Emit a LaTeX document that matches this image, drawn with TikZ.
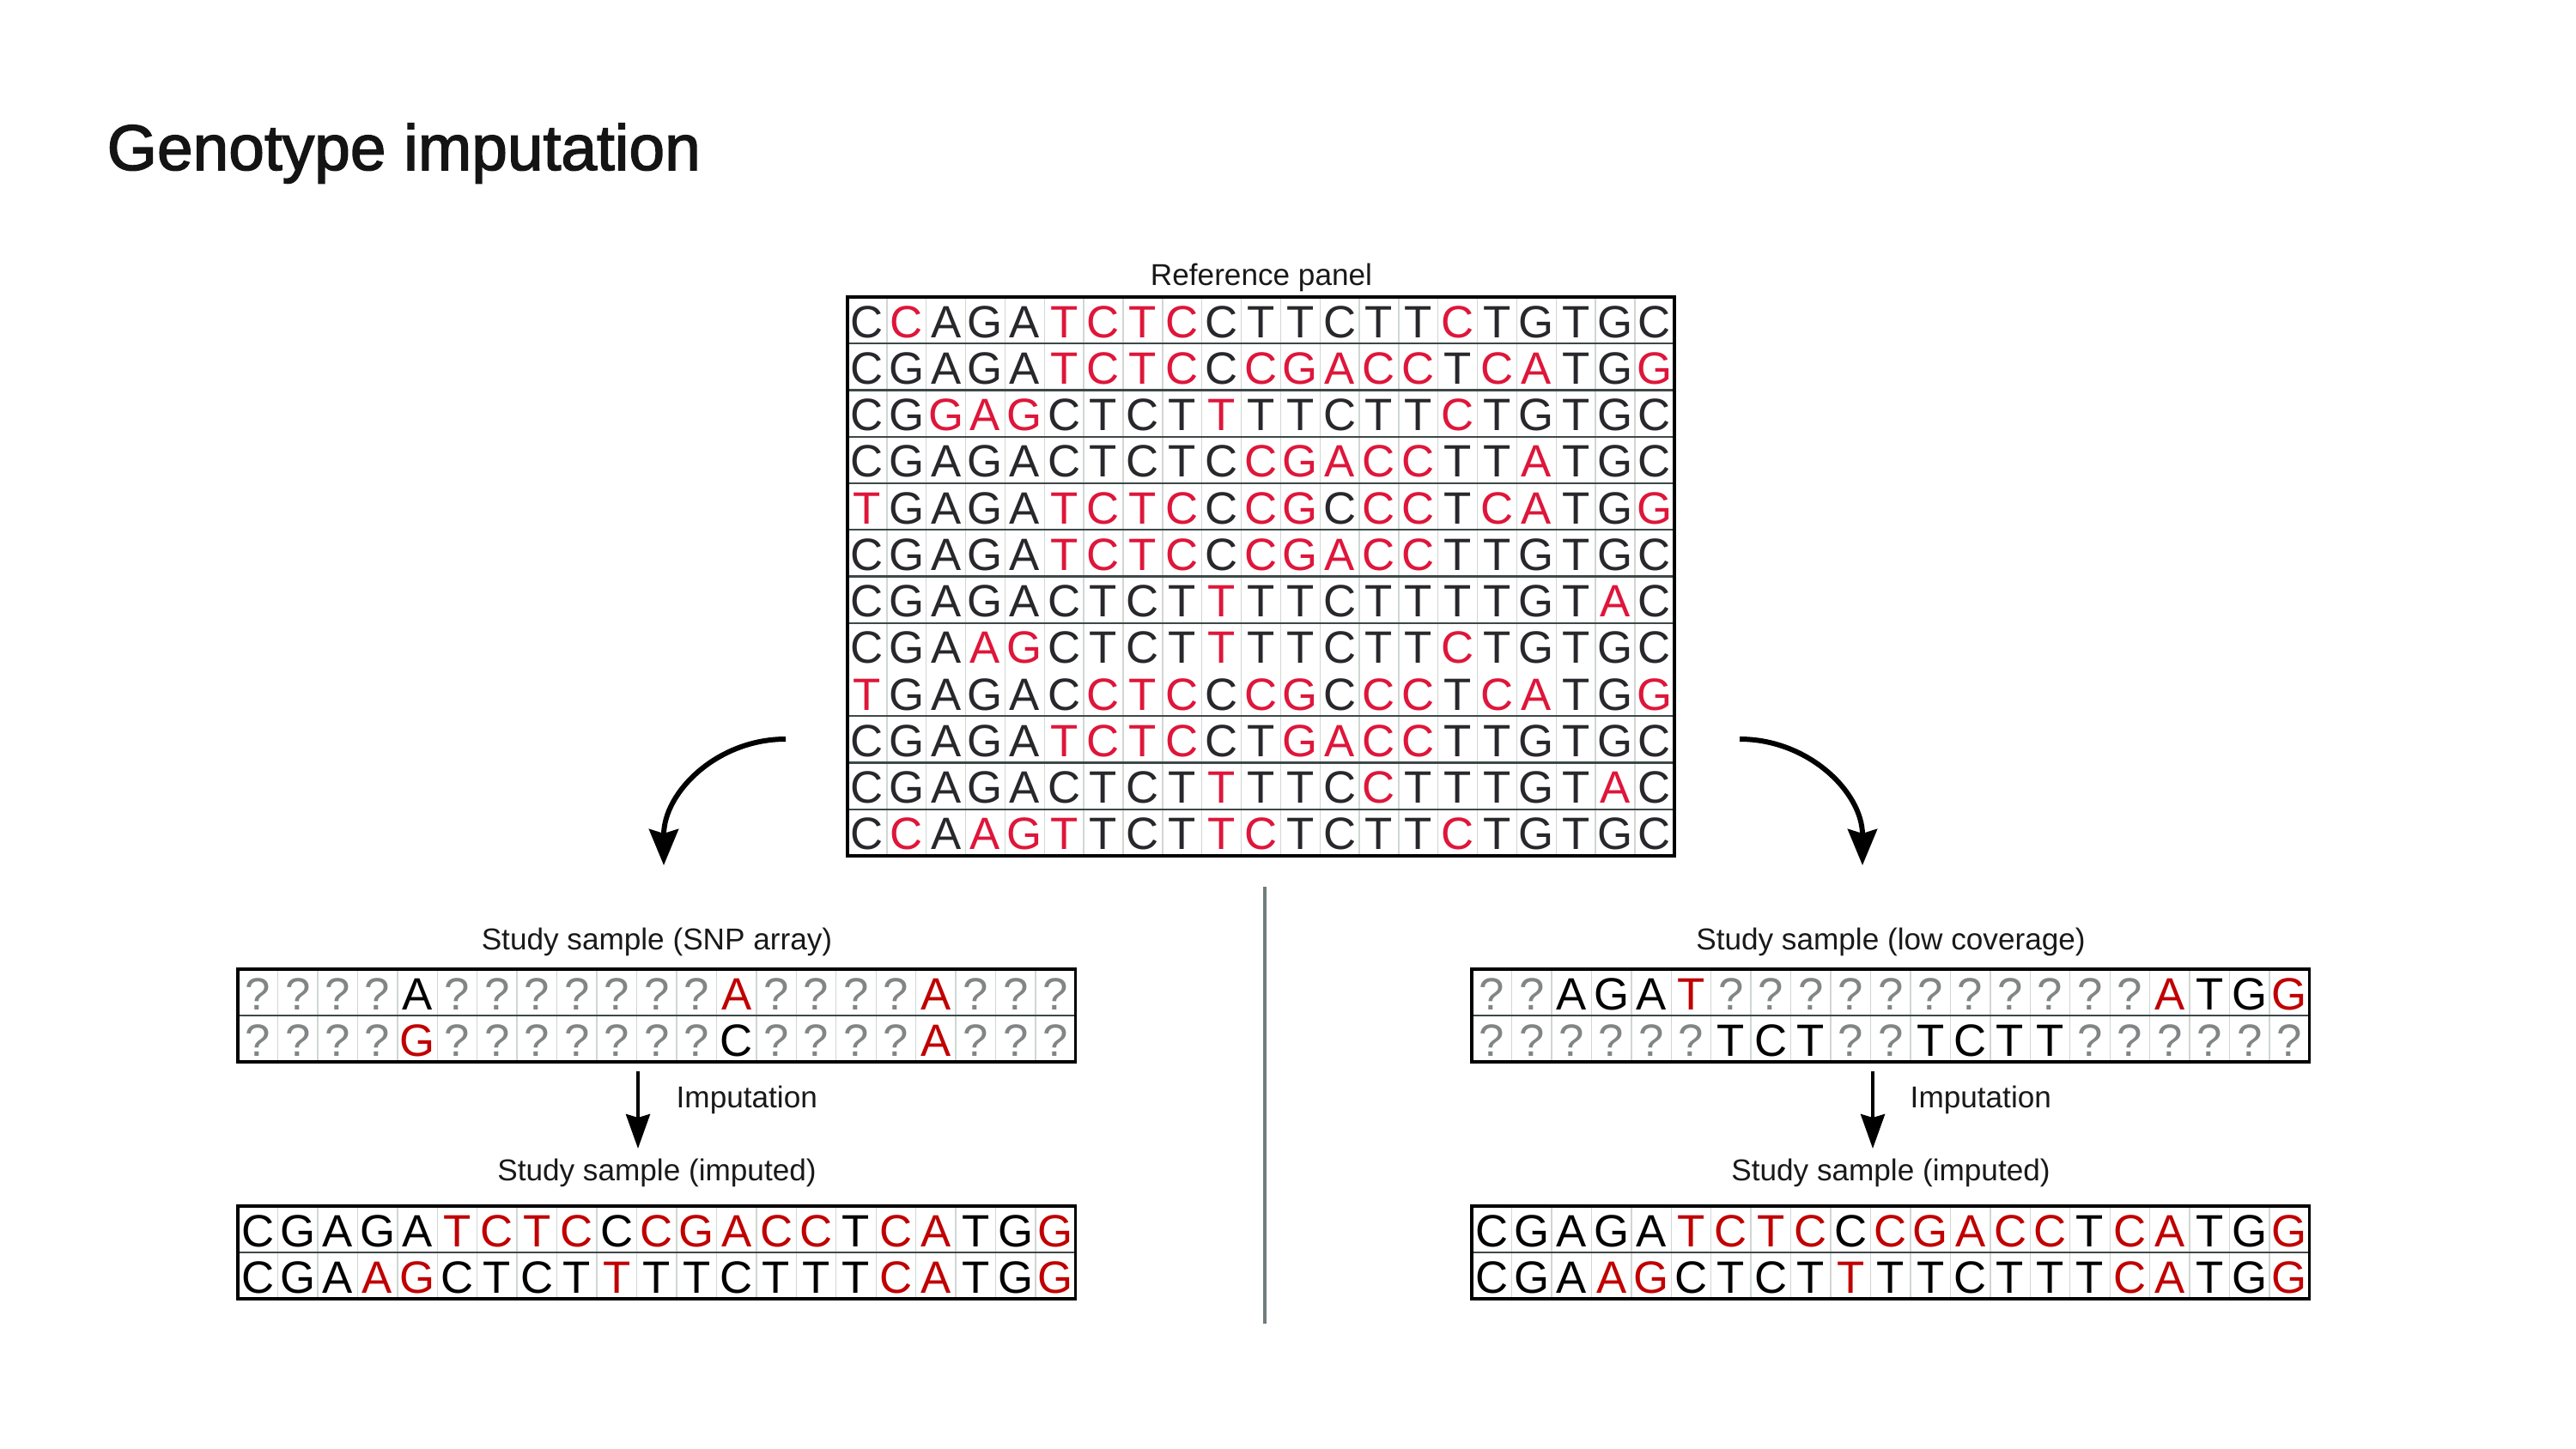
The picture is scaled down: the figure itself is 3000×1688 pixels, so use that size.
\documentclass[tikz,border=0pt]{standalone}
\usepackage{fontspec}
\setmainfont{Liberation Sans}
\newfontfamily\titlefont[FakeBold=2]{Liberation Sans}
\usetikzlibrary{arrows.meta}
\definecolor{refred}{RGB}{222,22,58}
\definecolor{samplered}{RGB}{192,0,0}
\definecolor{refblack}{RGB}{40,40,44}
\definecolor{qgray}{RGB}{130,133,133}
\definecolor{cellline}{RGB}{208,215,211}
\definecolor{rowline}{RGB}{62,72,72}
\definecolor{dividergray}{RGB}{112,124,124}
\colorlet{ntred}{refred}
\colorlet{ntblack}{refblack}
\tikzset{
  nt-letter/.style={font=\fontsize{15}{15}\selectfont, anchor=base, inner sep=0pt},
  caption-text/.style={font=\fontsize{10}{12}\selectfont, text=black!90, anchor=base, inner sep=0pt},
  title-text/.style={font=\titlefont\fontsize{21.3}{26}\selectfont, text=black!92, anchor=base west, inner sep=0pt},
  gridframe/.style={draw=black, line width=1pt},
  rowsep/.style={draw=rowline, line width=0.6pt},
  cellsep/.style={draw=cellline, line width=0.4pt},
  bend-arrow/.style={line width=1.7pt, -{Stealth[length=0.42cm,width=0.34cm,inset=0.05cm]}},
  down-arrow/.style={line width=1.1pt, -{Stealth[length=0.4cm,width=0.28cm,inset=0.04cm]}},
  divider/.style={draw=dividergray, line width=0.9pt}
}
% grid origin, cell width, cell height
\newcommand{\setgrid}[4]{\def\gx{#1}\def\gy{#2}\def\gw{#3}\def\gh{#4}}
\newcommand{\seqframe}[2]{
  \draw[cellsep] foreach \k in {1,...,20} {({\gx+\k*\gw},\gy) -- ({\gx+\k*\gw},{\gy+#1*\gh})};
  \draw[rowsep] foreach \k in {#2} {(\gx,{\gy+\k*\gh}) -- ({\gx+21*\gw},{\gy+\k*\gh})};
  \draw[gridframe] (\gx,\gy) rectangle ({\gx+21*\gw},{\gy+#1*\gh});
}
% lower case = red base, ? = unknown
\newcommand{\seqrow}[3]{
  \foreach \nt [count=\i] in {#3} {
    \ifnum\expandafter`\nt>96 \def\ntcol{ntred}%
    \else\ifnum\expandafter`\nt<65 \def\ntcol{qgray}\else\def\ntcol{ntblack}\fi\fi
    \node[nt-letter, text=\ntcol] (#1-\i) at ({\gx+(\i-0.5)*\gw},{\gy+(#2-0.5)*\gh+20}) {\uppercase\expandafter{\nt}};
  }
}

\begin{document}
\begin{tikzpicture}[x=0.01cm, y=-0.01cm]
  \useasboundingbox (0,0) rectangle (3000,1688);
  \fill[white] (0,0) rectangle (3000,1688);

  \node[title-text] (title) at (124,198) {Genotype imputation};

  % reference panel
  \node[caption-text] (ref-label) at (1469,332) {Reference panel};
  \setgrid{987}{346}{45.85}{54.25}
  \seqframe{12}{1,2,3,4,5,6,7,9,10,11}
  \seqrow{ref1}{1}{C,c,A,G,A,t,c,t,c,C,T,T,C,T,T,c,T,G,T,G,C}
  \seqrow{ref2}{2}{C,G,A,G,A,t,c,t,c,C,c,g,a,c,c,T,c,a,T,G,g}
  \seqrow{ref3}{3}{C,G,g,a,g,C,T,C,T,t,T,T,C,T,T,c,T,G,T,G,C}
  \seqrow{ref4}{4}{C,G,A,G,A,C,T,C,T,C,c,g,a,c,c,T,T,a,T,G,C}
  \seqrow{ref5}{5}{t,G,A,G,A,t,c,t,c,C,c,g,C,c,c,T,c,a,T,G,g}
  \seqrow{ref6}{6}{C,G,A,G,A,t,c,t,c,C,c,g,a,c,c,T,T,G,T,G,C}
  \seqrow{ref7}{7}{C,G,A,G,A,C,T,C,T,t,T,T,C,T,T,T,T,G,T,a,C}
  \seqrow{ref8}{8}{C,G,A,a,g,C,T,C,T,t,T,T,C,T,T,c,T,G,T,G,C}
  \seqrow{ref9}{9}{t,G,A,G,A,C,c,t,c,C,c,g,C,c,c,T,c,a,T,G,g}
  \seqrow{ref10}{10}{C,G,A,G,A,t,c,t,c,C,T,g,a,c,c,T,T,G,T,G,C}
  \seqrow{ref11}{11}{C,G,A,G,A,C,T,C,T,t,T,T,C,c,T,T,T,G,T,a,C}
  \seqrow{ref12}{12}{C,c,A,a,g,t,T,C,T,t,c,T,C,T,T,c,T,G,T,G,C}

  \colorlet{ntred}{samplered}\colorlet{ntblack}{black}

  % SNP array side
  \node[caption-text] (snp-label) at (765,1106) {Study sample (SNP array)};
  \setgrid{277}{1129}{46.45}{54}
  \seqframe{2}{1}
  \seqrow{snp1}{1}{?,?,?,?,A,?,?,?,?,?,?,?,a,?,?,?,?,a,?,?,?}
  \seqrow{snp2}{2}{?,?,?,?,g,?,?,?,?,?,?,?,C,?,?,?,?,a,?,?,?}
  \node[caption-text, anchor=base west] (snp-step) at (787,1290) {Imputation};
  \node[caption-text] (snp-imp-label) at (765,1375) {Study sample (imputed)};
  \setgrid{277}{1405}{46.45}{54}
  \seqframe{2}{1}
  \seqrow{snpimp1}{1}{C,G,A,G,A,t,c,t,c,C,c,g,a,c,c,T,c,a,T,G,g}
  \seqrow{snpimp2}{2}{C,G,A,a,g,C,T,C,T,t,T,T,C,T,T,T,c,a,T,G,g}

  % low coverage side
  \node[caption-text] (low-label) at (2202,1106) {Study sample (low coverage)};
  \setgrid{1714}{1129}{46.45}{54}
  \seqframe{2}{1}
  \seqrow{low1}{1}{?,?,A,G,A,t,?,?,?,?,?,?,?,?,?,?,?,a,T,G,g}
  \seqrow{low2}{2}{?,?,?,?,?,?,T,C,T,?,?,T,C,T,T,?,?,?,?,?,?}
  \node[caption-text, anchor=base west] (low-step) at (2224,1290) {Imputation};
  \node[caption-text] (low-imp-label) at (2202,1375) {Study sample (imputed)};
  \setgrid{1714}{1405}{46.45}{54}
  \seqframe{2}{1}
  \seqrow{lowimp1}{1}{C,G,A,G,A,t,c,t,c,C,c,g,a,c,c,T,c,a,T,G,g}
  \seqrow{lowimp2}{2}{C,G,A,a,g,C,T,C,T,t,T,T,C,T,T,T,c,a,T,G,g}

  % arrows
  \coordinate (ref-out-l) at (915,861);
  \coordinate (snp-in) at (773,1008);
  \coordinate (ref-out-r) at (2026,861);
  \coordinate (low-in) at (2169,1008);
  \draw[bend-arrow] (ref-out-l) .. controls +(-80,0) and +(0,-85) .. (snp-in);
  \draw[bend-arrow] (ref-out-r) .. controls +(80,0) and +(0,-85) .. (low-in);

  \coordinate (snp-out) at (743,1248);
  \coordinate (snpimp-in) at (743,1338);
  \coordinate (low-out) at (2181,1248);
  \coordinate (lowimp-in) at (2181,1338);
  \draw[down-arrow] (snp-out) -- (snpimp-in);
  \draw[down-arrow] (low-out) -- (lowimp-in);

  \draw[divider] (1473,1033) -- (1473,1542);
\end{tikzpicture}
\end{document}
